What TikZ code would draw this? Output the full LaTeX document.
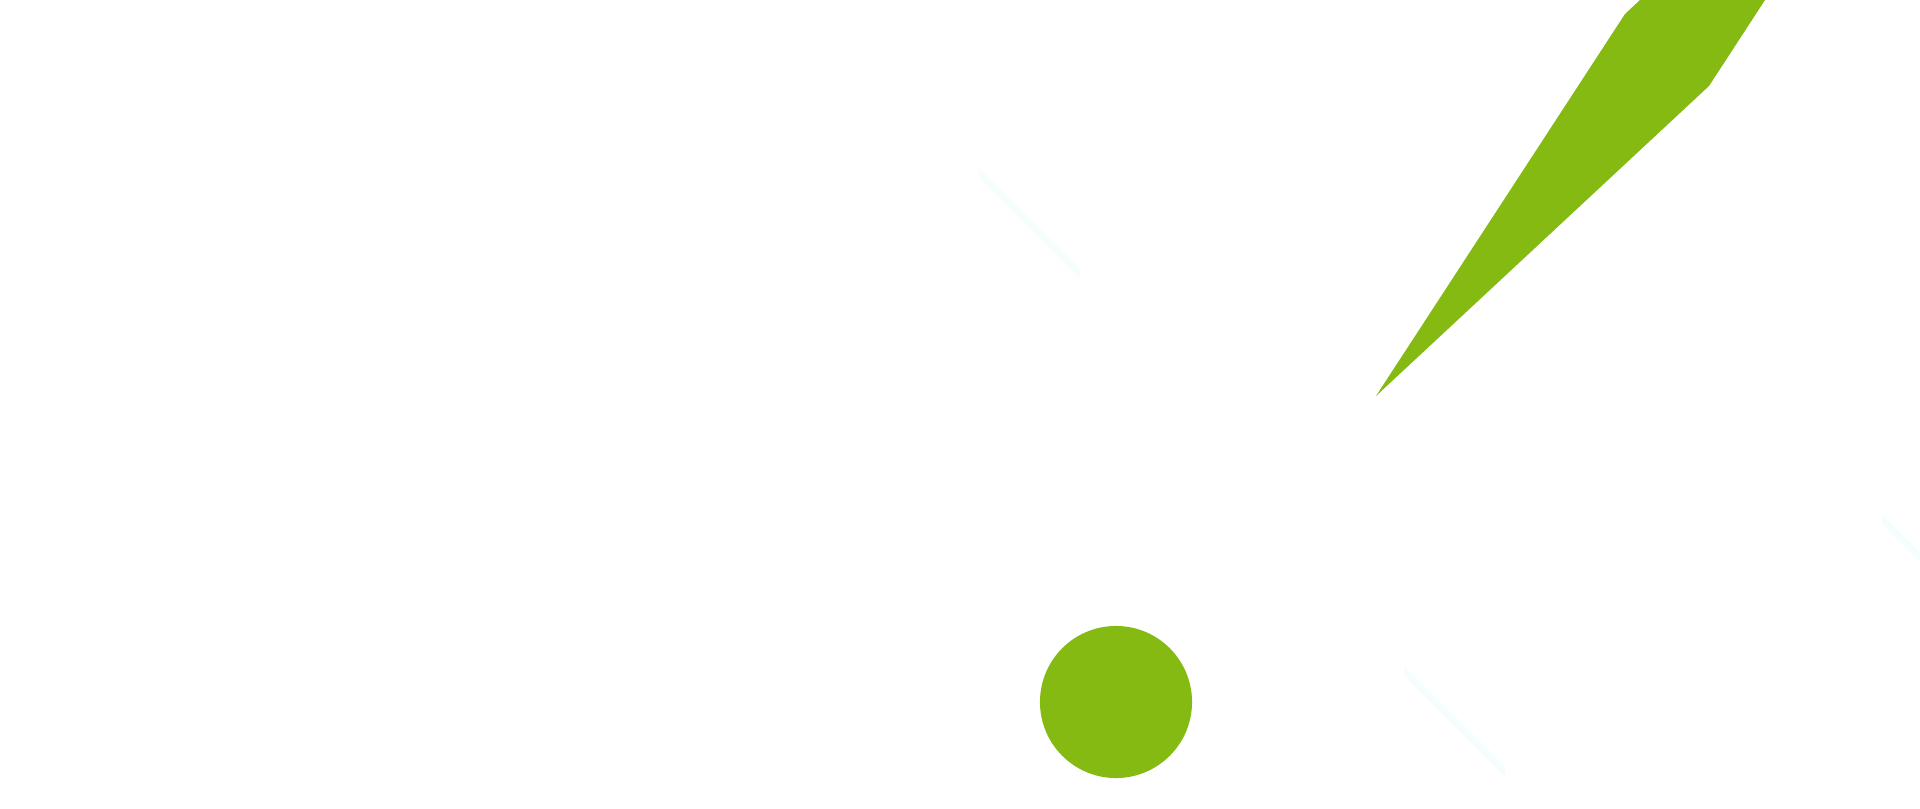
\documentclass[tikz,border=0pt]{standalone}
\definecolor{leafgreen}{RGB}{133,186,18}
\definecolor{palemint}{RGB}{246,253,253}
\tikzset{
  greenfill/.style={fill=leafgreen,draw=none},
  stripefill/.style={fill=palemint,draw=none}
}
\begin{document}
\begin{tikzpicture}[x=0.01cm,y=-0.01cm]
% Fix the page
\useasboundingbox (0,0) rectangle (1920,809);
\clip (0,0) rectangle (1920,809);

% the pale stripes
\foreach \x/\y in {0/0,425/498,903/346} {
\fill [stripefill,shift={(\x,\y)}] (979,168) -- (979,178) -- (1081,280) -- (1079,267) -- cycle;
}

% the blade
\fill [greenfill] (1376,396) -- (1625,14) -- (1640,0) -- (1765,0) -- (1709,86) -- cycle;

% the dot
\fill [greenfill] (1116,702) circle (0.76cm);
\end{tikzpicture}
\end{document}
